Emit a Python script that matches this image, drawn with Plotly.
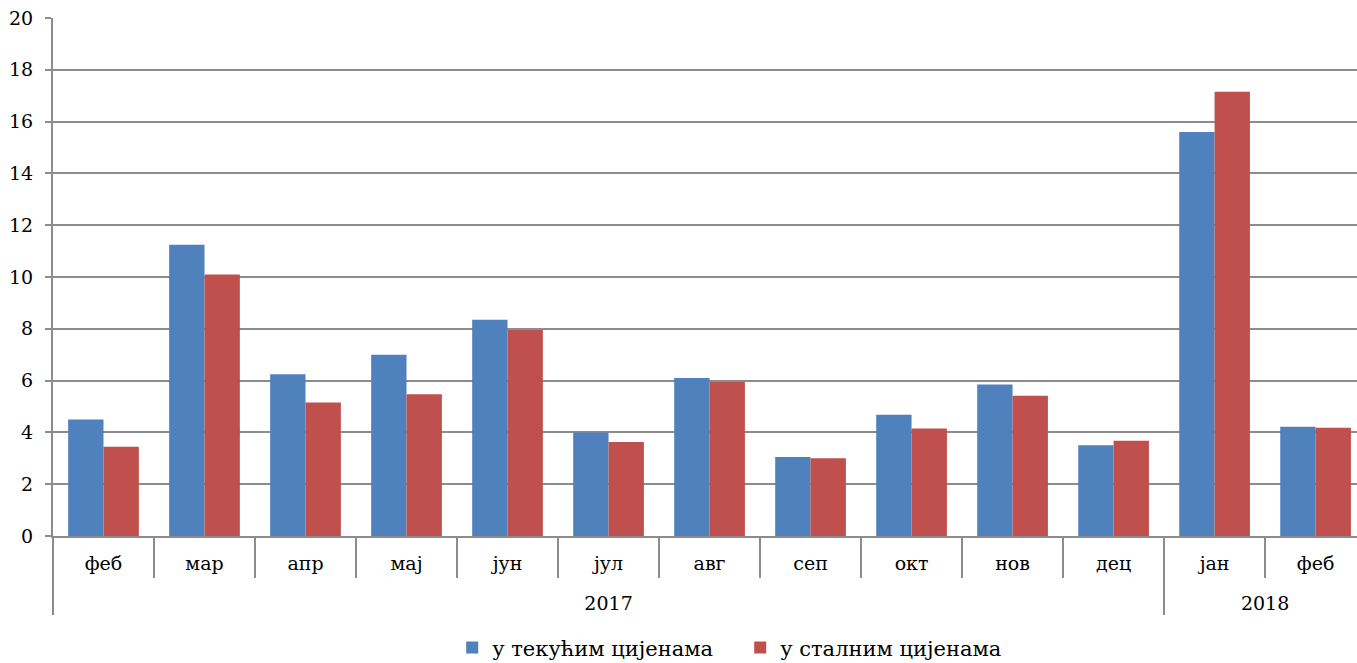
import plotly.graph_objects as go

# second "феб" carries a zero-width space so Plotly keeps the 2018 order (јан, феб)
months = ["феб", "мар", "апр", "мај", "јун", "јул", "авг", "сеп", "окт", "нов", "дец", "јан", "феб\u200b"]
years = ["2017"] * 11 + ["2018"] * 2
current_prices = [4.5, 11.25, 6.25, 7.0, 8.35, 4.0, 6.1, 3.05, 4.68, 5.85, 3.5, 15.6, 4.22]
constant_prices = [3.45, 10.1, 5.15, 5.47, 7.95, 3.63, 5.95, 3.0, 4.15, 5.42, 3.68, 17.15, 4.18]
series_names = ["у текућим цијенама", "у сталним цијенама"]
y_ticks = [0, 2, 4, 6, 8, 10, 12, 14, 16, 18, 20]

# outer-level labels sit one line lower, as in the reference
year_labels = ["<br>" + y for y in years]

FONT = "DejaVu Serif"
GRID = "#8c8c8c"

fig = go.Figure()
fig.add_trace(go.Bar(x=[year_labels, months], y=current_prices, name=series_names[0],
                     marker=dict(color="#4F81BD", line=dict(width=0))))
fig.add_trace(go.Bar(x=[year_labels, months], y=constant_prices, name=series_names[1],
                     marker=dict(color="#C0504D", line=dict(width=0))))

fig.update_layout(
    width=1357, height=663,
    margin=dict(l=53, r=0, t=18, b=127),
    paper_bgcolor="white", plot_bgcolor="white",
    barmode="group", bargap=0.3, bargroupgap=0,
    font=dict(family=FONT, size=19, color="#000000"),
    showlegend=True,
    legend=dict(orientation="h", xref="paper", x=0.527, xanchor="center",
                yref="container", y=0.023, yanchor="middle",
                font=dict(family=FONT, size=21), itemwidth=30, entrywidth=243,
                traceorder="normal"),
)
fig.update_xaxes(
    type="multicategory", automargin=False,
    range=[-0.5, 12.41],
    showline=True, linecolor=GRID, linewidth=2,
    ticks="outside", tickson="boundaries", ticklen=40, tickcolor=GRID, tickwidth=2,
    ticklabelstandoff=9,
    showdividers=True, dividercolor=GRID, dividerwidth=2,
    showgrid=False,
    tickfont=dict(family=FONT, size=19),
)
fig.update_yaxes(
    automargin=False,
    range=[0, 20.001], tickvals=y_ticks,
    showgrid=True, gridcolor=GRID, gridwidth=2,
    showline=True, linecolor=GRID, linewidth=2,
    ticks="outside", ticklen=6, tickcolor=GRID, tickwidth=2,
    ticklabelstandoff=8,
    tickfont=dict(family=FONT, size=19),
    zeroline=False,
)

fig.write_html(
    "out.html",
    config={"displayModeBar": False},
    post_script="document.body.style.margin='0';document.body.style.overflow='hidden';",
)
